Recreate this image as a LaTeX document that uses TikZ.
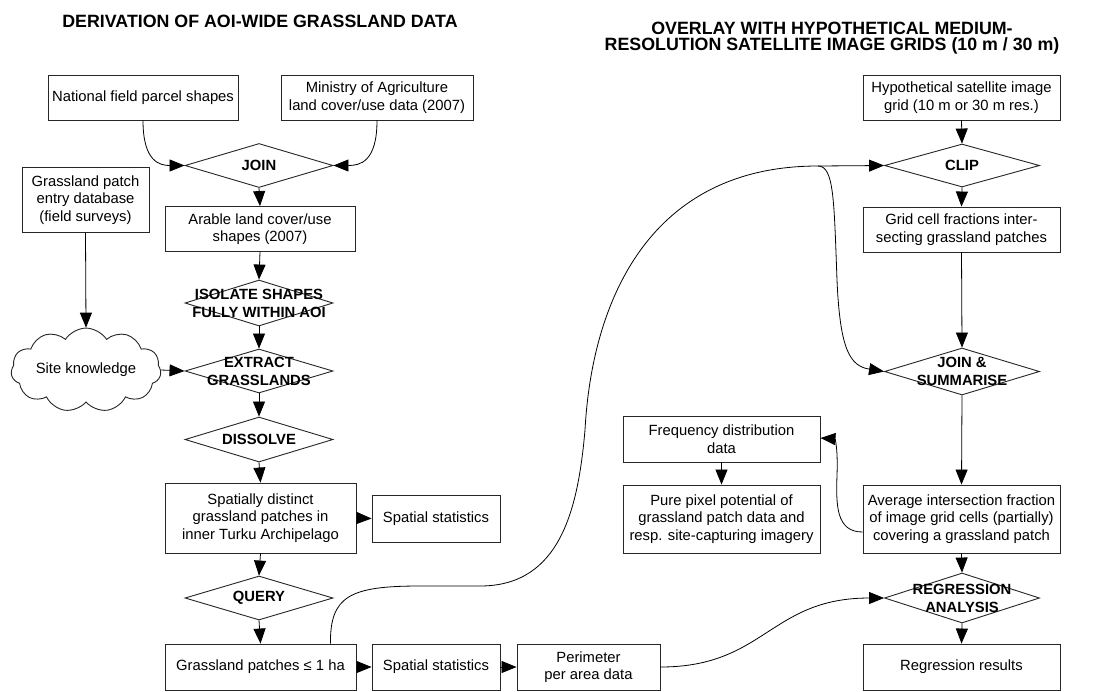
\documentclass[tikz,border=0pt]{standalone}
\usepackage{fontspec}
\setmainfont{Liberation Sans}
\usetikzlibrary{shapes.geometric,shapes.symbols,arrows.meta}
\begin{document}
\begin{tikzpicture}[x=1pt,y=-1pt,
  every node/.style={inner sep=1pt},
  box/.style={draw=black!85,line width=0.9pt,rectangle,align=center,
    font=\fontsize{14.8}{17.5}\selectfont},
  dia/.style={draw=black!85,line width=0.9pt,diamond,inner sep=0pt,minimum width=148pt,minimum height=44pt},
  dtext/.style={align=center,font=\bfseries\fontsize{14.8}{18}\selectfont},
  ttl/.style={align=center,font=\bfseries\fontsize{17.8}{16.5}\selectfont},
  arr/.style={line width=0.8pt,-{Triangle[length=15pt,width=12pt]}},
  ln/.style={line width=0.8pt}]
\path[use as bounding box,fill=white] (0,0) rectangle (1105,691);
% titles
\node[ttl] (t1) at (260,21) {DERIVATION OF AOI-WIDE GRASSLAND DATA};
\node[ttl] (t2) at (832,38) {OVERLAY WITH HYPOTHETICAL MEDIUM-\\RESOLUTION SATELLITE IMAGE GRIDS (10 m / 30 m)};
% left column
\node[box,minimum width=190pt,minimum height=45pt] (nat) at (143,97.5) {National field parcel shapes};
\node[box,minimum width=192pt,minimum height=45pt] (min) at (377,97.5) {Ministry of Agriculture\\land cover/use data (2007)};
\node[dia] (join) at (259,165.5) {};
\node[dtext] at (join) {JOIN};
\node[box,minimum width=127pt,minimum height=65pt] (gdb) at (85.5,200) {Grassland patch\\entry database\\(field surveys)};
\node[box,minimum width=190pt,minimum height=45pt] (arable) at (260,229) {Arable land cover/use\\shapes (2007)};
\node[dia,minimum height=46pt] (iso) at (259,303) {};
\node[dtext] at (iso) {ISOLATE SHAPES\\FULLY WITHIN AOI};
\node[draw=black!85,line width=0.9pt,cloud,cloud puffs=11,cloud puff arc=115,aspect=2.2,minimum width=150pt,minimum height=68pt,inner sep=0pt,font=\fontsize{14.8}{17.5}\selectfont] (site) at (86,370) {Site knowledge};
\node[dia] (ext) at (259,371) {};
\node[dtext] at (ext) {EXTRACT\\GRASSLANDS};
\node[dia,minimum height=45pt] (dis) at (259,439.5) {};
\node[dtext] at (dis) {DISSOLVE};
\node[box,minimum width=191pt,minimum height=70pt] (spat) at (260.5,518) {Spatially distinct\\grassland patches in\\inner Turku Archipelago};
\node[box,minimum width=128pt,minimum height=47pt] (ss1) at (436,518.5) {Spatial statistics};
\node[dia] (query) at (259,598) {};
\node[dtext] at (query) {QUERY};
\node[box,minimum width=191pt,minimum height=46pt] (gp) at (260.5,667) {Grassland patches ≤ 1 ha};
\node[box,minimum width=128pt,minimum height=46pt] (ss2) at (436,667) {Spatial statistics};
\node[box,minimum width=143pt,minimum height=46pt] (per) at (588.5,667) {Perimeter\\per area data};
% right column
\node[box,minimum width=197pt,minimum height=45pt] (hyp) at (961.5,97.5) {Hypothetical satellite image\\grid (10 m or 30 m res.)};
\node[dia,minimum width=155pt,minimum height=43pt] (clip) at (962,165.5) {};
\node[dtext] at (clip) {CLIP};
\node[box,minimum width=197pt,minimum height=45pt] (grid) at (961.5,229.5) {Grid cell fractions inter-\\secting grassland patches};
\node[dia,minimum width=155pt,minimum height=47pt] (js) at (962,371.5) {};
\node[dtext] at (js) {JOIN \&\\SUMMARISE};
\node[box,minimum width=197pt,minimum height=46pt] (freq) at (721.5,439) {Frequency distribution\\data};
\node[box,minimum width=197pt,minimum height=68pt] (pure) at (721.5,519) {Pure pixel potential of\\grassland patch data and\\resp. site-capturing imagery};
\node[box,minimum width=197pt,minimum height=68pt] (avg) at (961.5,519) {Average intersection fraction\\of image grid cells (partially)\\covering a grassland patch};
\node[dia,minimum width=155pt,minimum height=50pt] (reg) at (962,598) {};
\node[dtext] at (reg) {REGRESSION\\ANALYSIS};
\node[box,minimum width=197pt,minimum height=46pt] (res) at (961.5,667) {Regression results};
\coordinate (split) at (818,166);
% connectors left
\draw[arr] (nat.south) .. controls (143,162) and (160,165.5) .. (join.west);
\draw[arr] (min.south) .. controls (377,162) and (360,165.5) .. (join.east);
\draw[arr] (join.south) -- (arable.north);
\draw[arr] (gdb.south) -- (site.north);
\draw[arr] (arable.south) -- (iso.north);
\draw[arr] (iso.south) -- (ext.north);
\draw[arr] (site.east) -- (ext.west);
\draw[arr] (ext.south) -- (dis.north);
\draw[arr] (dis.south) -- (spat.north);
\draw[arr] (spat.east) -- (ss1.west);
\draw[arr] (spat.south) -- (query.north);
\draw[arr] (query.south) -- (gp.north);
\draw[arr] (gp.east) -- (ss2.west);
\draw[arr] (ss2.east) -- (per.west);
% long curve
\draw[ln] ([xshift=-26pt]gp.north east) .. controls (330,596) and (350,586) .. (420,586)
  -- (480,586) .. controls (560,586) and (578,510) .. (585,430)
  .. controls (592,300) and (650,166) .. (split);
\draw[arr] (split) -- (clip.west);
\draw[arr] (split) .. controls (834,166) and (834,200) .. (837,280)
  .. controls (840,350) and (850,366) .. (js.west);
\draw[arr] (per.east) .. controls (765,667) and (770,598) .. (reg.west);
% right column connectors
\draw[arr] (hyp.south) -- (clip.north);
\draw[arr] (clip.south) -- (grid.north);
\draw[arr] (grid.south) -- (js.north);
\draw[arr] (js.south) -- (avg.north);
\draw[arr] (avg.south) -- (reg.north);
\draw[arr] (reg.south) -- (res.north);
\draw[arr] (freq.south) -- (pure.north);
\draw[arr] ([yshift=-13pt]avg.west) .. controls (836,532) and (836,505) .. (837,475)
  .. controls (838,448) and (835,439) .. ([yshift=1pt]freq.east);
\end{tikzpicture}
\end{document}
